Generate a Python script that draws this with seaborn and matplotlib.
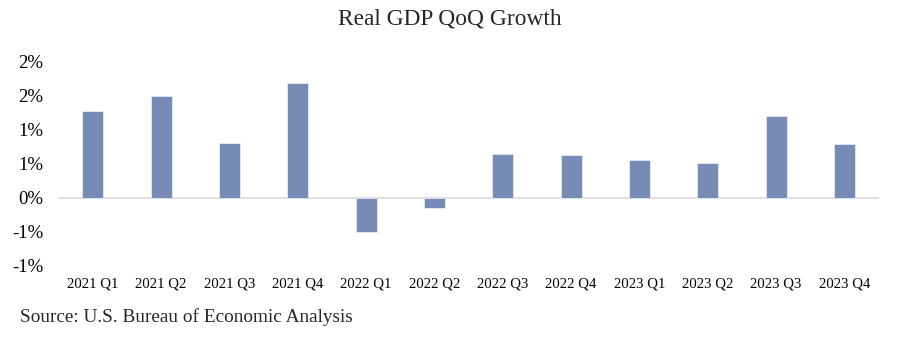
import matplotlib
matplotlib.use("Agg")
import matplotlib.pyplot as plt
import seaborn as sns
import pandas as pd

quarters = ["2021 Q1", "2021 Q2", "2021 Q3", "2021 Q4",
            "2022 Q1", "2022 Q2", "2022 Q3", "2022 Q4",
            "2023 Q1", "2023 Q2", "2023 Q3", "2023 Q4"]
growth = [1.27, 1.49, 0.80, 1.68, -0.51, -0.15, 0.645, 0.62, 0.55, 0.50, 1.19, 0.78]
ytick_values = [-1.0, -0.5, 0.0, 0.5, 1.0, 1.5, 2.0]
ytick_labels = ["-1%", "-1%", "0%", "1%", "1%", "2%", "2%"]

sns.set_theme(style="white")
plt.rcParams['font.family'] = ['Liberation Serif', 'DejaVu Serif']

df = pd.DataFrame({"quarter": quarters, "growth": growth})

fig = plt.figure(figsize=(9, 3.43), dpi=100)
ax = fig.add_axes([0.0652, 0.2248, 0.9111, 0.5972])

sns.barplot(data=df, x="quarter", y="growth", ax=ax, color="#778BB7",
            saturation=1, width=0.31, edgecolor="#e6eaf4", linewidth=0.6)

ax.axhline(0, color="#d9d9d9", linewidth=1.2, zorder=0)
ax.set_ylim(-1.0, 2.0)
ax.set_xlim(-0.5, len(quarters) - 0.5)
ax.set_yticks(ytick_values)
ax.set_yticklabels(ytick_labels)
ax.tick_params(axis="y", length=0, pad=11, labelsize=13.5, colors="black")
ax.tick_params(axis="x", length=0, pad=8, labelsize=10.6, colors="black")
ax.set_xlabel("")
ax.set_ylabel("")
for s in ax.spines.values():
    s.set_visible(False)

fig.text(0.5, 0.945, "Real GDP QoQ Growth", ha="center", va="center", fontsize=16.8)
fig.text(0.022, 0.077, "Source: U.S. Bureau of Economic Analysis", ha="left", va="center", fontsize=13.9)

fig.savefig("out.png", dpi=100, facecolor="white")
